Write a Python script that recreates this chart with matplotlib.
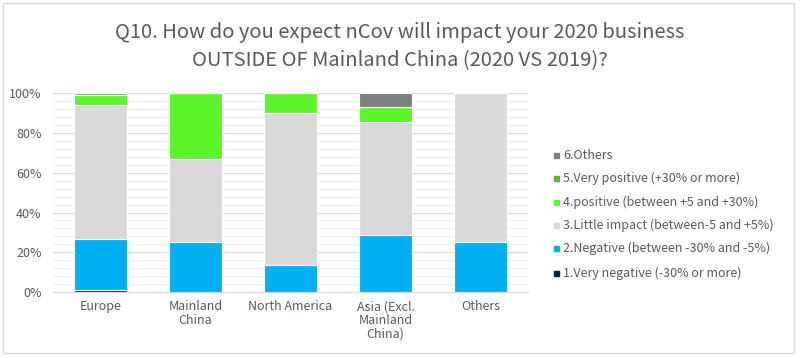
# Q10 stacked bar chart - nCov impact outside mainland China

import numpy as np
import matplotlib.pyplot as plt
from matplotlib.patches import Rectangle

plt.rcParams['font.family'] = ['Noto Sans CJK SC', 'DejaVu Sans']
plt.rcParams['font.weight'] = 'light'

regions = ['Europe', 'Mainland\nChina', 'North America', 'Asia (Excl.\nMainland\nChina)', 'Others']

# shares per answer, one list per series (percent)
very_negative = [1.2, 0, 0, 0, 0]
negative = [25.3, 25.0, 13.6, 28.6, 25.0]
little_impact = [67.5, 41.7, 76.3, 57.1, 75.0]
positive = [4.8, 33.3, 10.1, 7.1, 0]
very_positive = [1.2, 0, 0, 0, 0]
others = [0, 0, 0, 7.1, 0]

series_names = ['1.Very negative (-30% or more)', '2.Negative (between -30% and -5%)',
                '3.Little impact (between-5 and +5%)', '4.positive (between +5 and +30%)',
                '5.Very positive (+30% or more)', '6.Others']
series = [very_negative, negative, little_impact, positive, very_positive, others]
colors = ['#0d1a4f', '#00b0f0', '#d9d9d9', '#5cf52c', '#5db544', '#7f7f7f']

txt = '#595959'

fig = plt.figure(figsize=(8, 3.58), dpi=100)
ax = fig.add_axes([0.066, 0.184, 0.594, 0.556])

x = np.arange(len(regions))
bottom = np.zeros(len(regions))
for vals, c in zip(series, colors):
    v = np.array(vals) / 100.0
    ax.bar(x, v, 0.56, bottom=bottom, color=c, edgecolor='white', linewidth=0.8, zorder=3)
    bottom += v

ax.set_xlim(-0.5, len(regions) - 0.5)
ax.set_ylim(0, 1)
ax.set_yticks(np.arange(0, 1.01, 0.2))
ax.set_yticklabels(['%d%%' % (t * 100) for t in np.arange(0, 1.01, 0.2)], color=txt, fontsize=9)
ax.set_yticks(np.arange(0, 1.01, 0.04), minor=True)
ax.set_xticks(x)
ax.set_xticklabels(regions, color=txt, fontsize=9, linespacing=1.05)
ax.tick_params(axis='both', which='both', length=0)
ax.tick_params(axis='y', pad=8)
ax.tick_params(axis='x', pad=6)
ax.grid(axis='y', which='major', color='#d9d9d9', linewidth=0.9, zorder=0)
ax.grid(axis='y', which='minor', color='#eeeeee', linewidth=0.8, zorder=0)
for s in ['top', 'right', 'left']:
    ax.spines[s].set_visible(False)
ax.spines['bottom'].set_color('#d9d9d9')

fig.text(0.5, 0.91, 'Q10. How do you expect nCov will impact your 2020 business',
         ha='center', va='center', fontsize=14.5, color=txt)
fig.text(0.5, 0.83, 'OUTSIDE OF Mainland China (2020 VS 2019)?',
         ha='center', va='center', fontsize=14.5, color=txt)

# legend, top entry is the last series
ys = [155, 178, 202, 225, 248, 273]
for i, (name, c) in enumerate(zip(series_names[::-1], colors[::-1])):
    yf = 1 - ys[i] / 358.0
    fig.patches.append(Rectangle((554 / 800.0, yf - 2.5 / 358.0), 5 / 800.0, 5 / 358.0,
                                 color=c, transform=fig.transFigure))
    fig.text(563 / 800.0, yf, name, ha='left', va='center', fontsize=9, color=txt)

# outer frame
fig.patches.append(Rectangle((3 / 800.0, 5 / 358.0), 791 / 800.0, 350 / 358.0, fill=False,
                             edgecolor='#d9d9d9', linewidth=1.0, transform=fig.transFigure))

fig.savefig('out.png', dpi=100)
